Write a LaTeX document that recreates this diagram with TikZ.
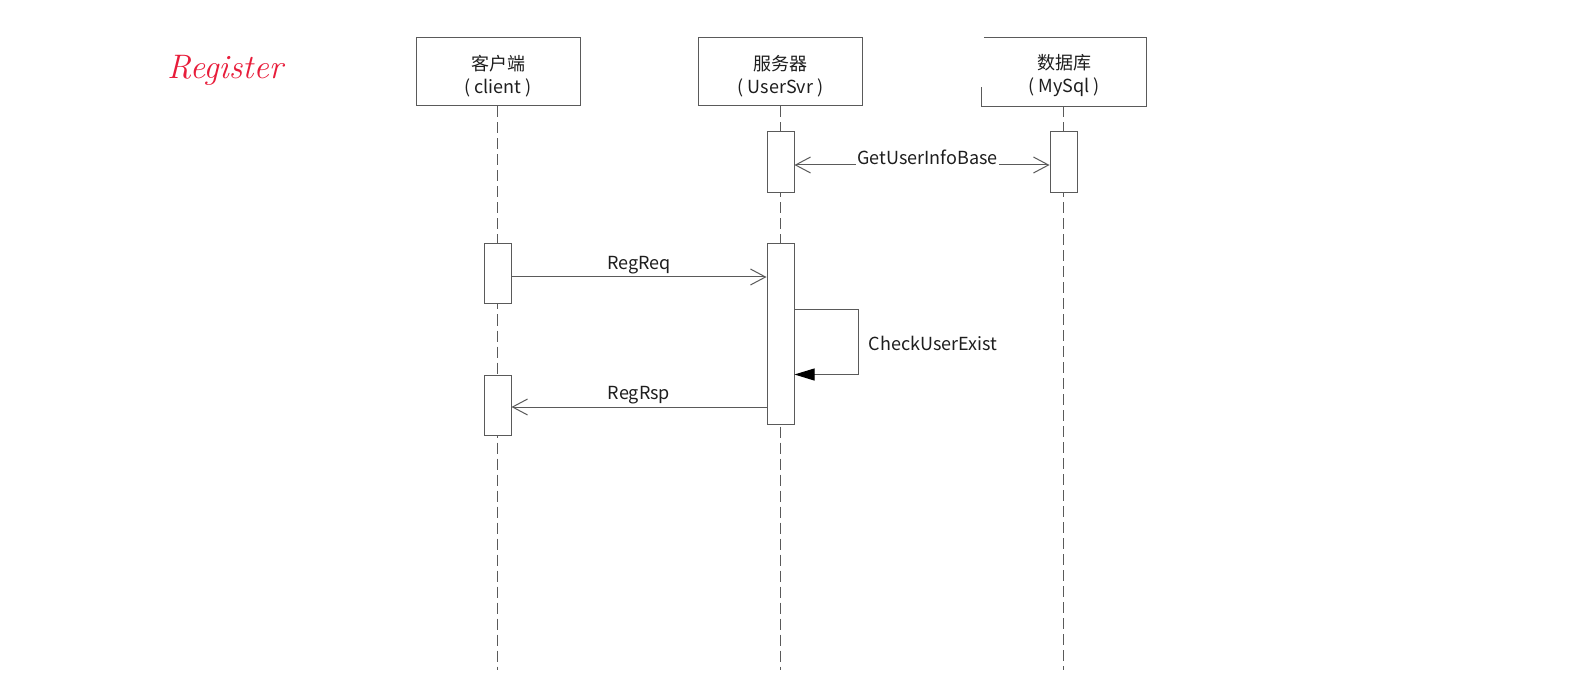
\documentclass[tikz,border=0pt]{standalone}
\usepackage{fontspec}
\setmainfont{Noto Sans CJK SC}
\newfontfamily\handfont{Latin Modern Roman}
\usetikzlibrary{arrows.meta,calc}
\definecolor{lc}{RGB}{90,90,90}
\definecolor{tc}{RGB}{30,30,30}
\definecolor{regred}{RGB}{232,28,58}
\newcommand{\dn}[1]{\raisebox{-4pt}[\height][\depth]{#1}}
\begin{document}
\begin{tikzpicture}[x=1pt,y=-1pt,
  ln/.style={draw=lc,line width=1pt},
  head/.style={minimum width=164pt,minimum height=68pt,align=center,inner sep=0pt,
    text=tc,font=\fontsize{18}{23}\selectfont},
  headbox/.style={head,ln},
  actbar/.style={ln,fill=white,minimum width=27pt,inner sep=0pt},
  life/.style={ln,dash pattern=on 11pt off 5pt},
  barb/.tip={Straight Barb[length=15pt,width=16pt,line width=1pt]},
  open/.style={ln,-barb},
  lbl/.style={text=tc,font=\fontsize{18}{20}\selectfont,inner sep=1.5pt}
]
\useasboundingbox (0,0) rectangle (1570,684);
\fill[white] (0,0) rectangle (1570,684);

% title
\node[text=regred,font=\handfont\itshape\fontsize{34}{34}\selectfont] (reg) at (225,70) {Register};

% headers
\node[headbox] (cl) at (498,72) {\dn{客户端}\\\dn{( client )}};
\node[headbox] (sv) at (780.5,72) {\dn{服务器}\\\dn{( UserSvr )}};
\node[head] (db) at (1064,72) {\dn{数据库}\\\dn{( MySql )}};
\draw[ln] ($(db.north west)+(2,0)$) -- (db.north east) -- (db.south east) -- (db.south west) -- +(0,-19);

% lifelines
\coordinate (clend) at (497.5,670);
\coordinate (svend) at (780.5,670);
\coordinate (dbend) at (1063.5,670);
\draw[life] (cl.south -| clend) -- (clend);
\draw[life] (sv.south -| svend) -- (svend);
\draw[life] (db.south -| dbend) -- (dbend);

% activation bars
\node[actbar,minimum height=61pt] (sb1) at (780.5,162.5) {};
\node[actbar,minimum height=61pt] (db1) at (1063.5,162.5) {};
\node[actbar,minimum height=60pt] (cb1) at (497.5,274) {};
\node[actbar,minimum height=180pt] (sb2) at (780.5,334) {};
\node[actbar,minimum height=60pt] (cb2) at (497.5,405) {};

% GetUserInfoBase
\coordinate (g) at ($(sb1.east)+(0,2.5)$);
\node[lbl] (gl) at (927.5,157) {GetUserInfoBase};
\draw[open] (g -| gl.west) -- (g);
\draw[open] (g -| gl.east) -- (g -| db1.west);

% RegReq
\coordinate (rq) at ($(cb1.east)+(0,3)$);
\draw[open] (rq) -- (rq -| sb2.west) node[lbl,midway,above=1pt] (rql) {RegReq};

% self call
\coordinate (s1) at ($(sb2.north east)+(0,66)$);
\coordinate (s2) at ($(s1)+(64,65)$);
\draw[ln,-{Triangle[length=20pt,width=12pt,fill=black,color=black]}] (s1) -| (s2) -- (s2 -| sb2.east);
\node[lbl,anchor=west] (cue) at (867,343) {CheckUserExist};

% RegRsp
\coordinate (rs) at ($(cb2.east)+(0,2)$);
\draw[open] (rs -| sb2.west) -- (rs) node[lbl,midway,above=1pt] (rsl) {RegRsp};
\end{tikzpicture}
\end{document}
